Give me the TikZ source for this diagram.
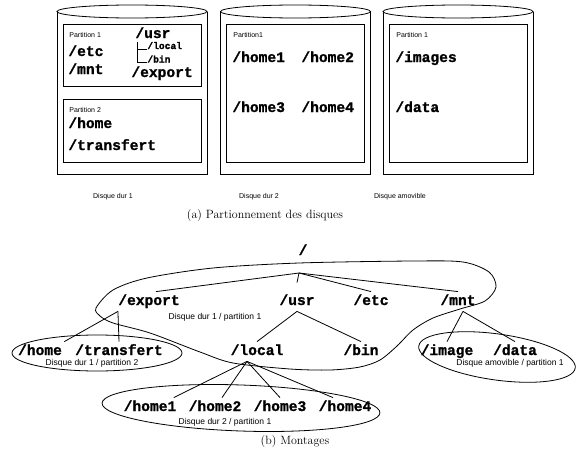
\documentclass[tikz,border=0pt]{standalone}
\usepackage{fontspec}
\newfontfamily\courfont{Liberation Mono}[BoldFeatures={FakeBold=1.2}]
\newfontfamily\arialfont{Liberation Sans}
\usetikzlibrary{positioning,calc}

\begin{document}
\begin{tikzpicture}[x=1pt,y=-1pt,line width=0.8pt,
 dir/.style={font=\courfont\bfseries\fontsize{14.6}{16}\selectfont,inner sep=2pt,text height=11pt,text depth=4pt,anchor=base},
 topdir/.style={font=\courfont\bfseries\fontsize{14.6}{16}\selectfont,inner sep=1pt,text height=10pt,text depth=0pt,anchor=base west},
 subdir/.style={font=\courfont\bfseries\fontsize{10}{12}\selectfont,inner sep=0.5pt,text height=6pt,text depth=1pt,anchor=base west},
 lbl/.style={font=\arialfont\fontsize{7}{8}\selectfont,inner sep=1pt},
 mountlbl/.style={font=\arialfont\fontsize{8.5}{10}\selectfont,inner sep=1pt},
 caption/.style={font=\fontsize{12}{14}\selectfont,inner sep=0pt}]
 \useasboundingbox (0,0) rectangle (584,463);
 \foreach \cx/\lx/\name [count=\i] in {132/113/Disque dur 1,295.5/259/Disque dur 2,458/400/Disque amovible}{
 \draw (\cx-75,11.5) -- (\cx-75,174) -- (\cx+75,174) -- (\cx+75,11.5);
 \draw[fill=white] (\cx,11.5) ellipse [x radius=75pt,y radius=6.5pt];
 \node[lbl] (disk\i) at (\lx,196.5) {\name};
 }
 \draw (63,24) rectangle (201,86);
 \draw (63,99) rectangle (201,162);
 \draw (226.5,24) rectangle (364.5,162);
 \draw (389,24) rectangle (527,162);
 \node[lbl,anchor=west] (d1p1) at (68,34.5) {Partition 1};
 \node[lbl,anchor=west] (d1p2) at (68,109.5) {Partition 2};
 \node[lbl,anchor=west] (d2p1) at (232,34.5) {Partition1};
 \node[lbl,anchor=west] (d3p1) at (395,34.5) {Partition 1};
 \node[topdir] (d1usr) at (134,38) {/usr};
 \node[topdir] (d1etc) at (67,56) {/etc};
 \node[topdir] (d1mnt) at (67,74) {/mnt};
 \node[topdir] (d1export) at (130,77) {/export};
 \node[subdir,font=\courfont\bfseries\fontsize{9.6}{11}\selectfont] (d1local) at (146.5,49) {/local};
 \node[subdir,font=\courfont\bfseries\fontsize{9.6}{11}\selectfont] (d1bin) at (146.5,62.5) {/bin};
 \draw ([xshift=3pt,yshift=-4pt]d1usr.base west) |- (d1local.base west);
 \draw ([xshift=3pt,yshift=-4pt]d1usr.base west) |- (d1bin.base west);
 \node[topdir] (d1home) at (67,128) {/home};
 \node[topdir] (d1transfert) at (67,150) {/transfert};
 \node[topdir] (d2home1) at (231,62) {/home1};
 \node[topdir] (d2home2) at (300,62) {/home2};
 \node[topdir] (d2home3) at (231,112) {/home3};
 \node[topdir] (d2home4) at (300,112) {/home4};
 \node[topdir] (d3images) at (394,62) {/images};
 \node[topdir] (d3data) at (394,112) {/data};
 \node[caption] (capa) at (265,216) {(a) Partionnement des disques};

 \node[dir] (root) at (303,255) {/};
 \coordinate (rootj) at (299,273);
 \node[dir] (export) at (149,305) {/export};
 \node[dir] (usr) at (297,305) {/usr};
 \node[dir] (etc) at (371,305) {/etc};
 \node[dir] (mnt) at (458,305) {/mnt};
 \node[mountlbl] (part11) at (215,317) {Disque dur 1 / partition 1};
 \node[dir] (local) at (257,355) {/local};
 \node[dir] (bin) at (361,355) {/bin};
 \node[dir] (home) at (40,355) {/home};
 \node[dir] (transfert) at (119,355) {/transfert};
 \node[mountlbl] (part12) at (92,363.5) {Disque dur 1 / partition 2};
 \node[dir] (image) at (447,355) {/image};
 \node[dir] (data) at (515,355) {/data};
 \node[mountlbl] (amov1) at (510,363.5) {Disque amovible / partition 1};
 \foreach \n [count=\i] in {150,215,280,345}
 \node[dir] (home\i) at (\n,411) {/home\i};
 \node[mountlbl] (part21) at (225,422) {Disque dur 2 / partition 1};
 \draw (rootj) -- ([xshift=7pt]export.north);
 \draw (rootj) -- ([yshift=9pt]usr.north);
 \draw (rootj) -- (etc.north);
 \draw (rootj) -- (mnt.north);
 \draw (usr.south) -- (local.north);
 \draw (usr.south) -- (bin.north);
 \draw ([xshift=2pt]export.south west) -- (home.north east);
 \draw ([xshift=2pt]export.south west) -- (transfert.north);
 \draw ([xshift=-10pt]local.south) -- ([xshift=-5pt]home1.north east);
 \draw ([xshift=-10pt]local.south) -- ([xshift=7pt]home2.north);
 \draw ([xshift=-10pt]local.south) -- (home3.north);
 \draw ([xshift=-10pt]local.south) -- ([xshift=-12pt]home4.north);
 \draw ([xshift=5pt]mnt.south) -- (image.north);
 \draw ([xshift=5pt]mnt.south) -- (data.north);
 \draw plot[smooth cycle] coordinates {(96,308) (113,290) (147,278) (213,268) (299,263) (413,261) (463,262) (489,272) (496,287) (485,301) (460,309) (433,318) (413,330) (397,346) (380,360) (360,367) (330,370) (290,369) (233,363) (200,352) (150,333) (113,323) (100,316)};
 \draw (97,353) ellipse [x radius=85pt,y radius=18pt];
 \draw[rotate around={-2:(241,408)}] (241,408) ellipse [x radius=139pt,y radius=23pt];
 \draw[rotate around={-8:(497,357)}] (497,357) ellipse [x radius=79pt,y radius=23pt];
 \node[caption] (capb) at (295,442) {(b) Montages};
\end{tikzpicture}
\end{document}
